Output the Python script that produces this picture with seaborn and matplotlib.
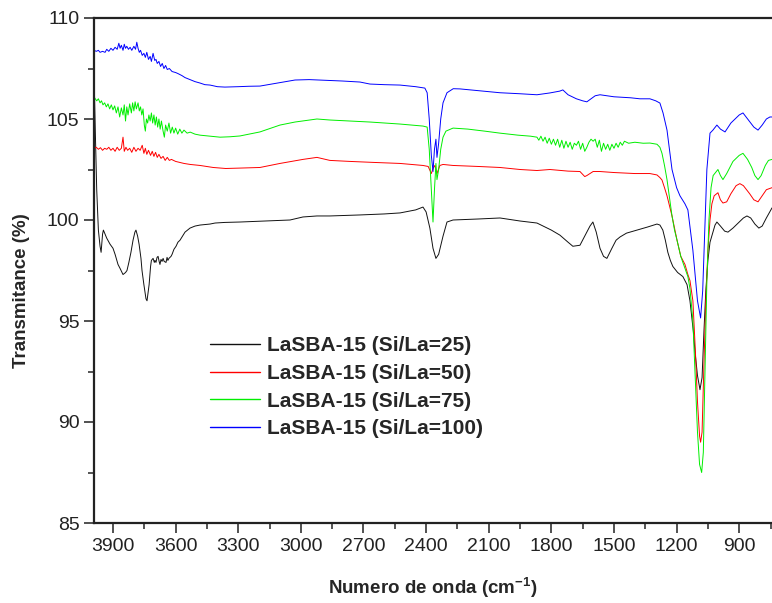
import numpy as np
import pandas as pd
import matplotlib
matplotlib.use("Agg")
import matplotlib.pyplot as plt
from matplotlib.ticker import MultipleLocator
import seaborn as sns

# ---------------- data ----------------
labels = ["LaSBA-15 (Si/La=25)", "LaSBA-15 (Si/La=50)",
          "LaSBA-15 (Si/La=75)", "LaSBA-15 (Si/La=100)"]
colors = ["#111111", "#ff0000", "#00ee00", "#0000ff"]

wn_25 = [3991, 3985, 3978, 3970, 3962, 3957, 3950, 3946, 3938, 3930, 3914, 3900, 3890, 3876,
         3866, 3852, 3840, 3833, 3824, 3814, 3804, 3795, 3790, 3782, 3775, 3766, 3761, 3752,
         3742, 3737, 3732, 3727, 3720, 3716, 3708, 3702, 3699, 3694, 3689, 3684, 3679, 3675,
         3670, 3665, 3660, 3655, 3646, 3641, 3637, 3632, 3622, 3617, 3608, 3598, 3589, 3579,
         3567, 3555, 3543, 3531, 3507, 3483, 3435, 3411, 3364, 3292, 3172, 3052, 2990, 2923,
         2861, 2717, 2600, 2525, 2450, 2415, 2400, 2382, 2367, 2353, 2340, 2319, 2300, 2271,
         2150, 2046, 1950, 1869, 1800, 1759, 1720, 1697, 1663, 1640, 1615, 1601, 1585, 1567,
         1550, 1534, 1510, 1490, 1471, 1440, 1390, 1340, 1294, 1280, 1266, 1254, 1242, 1230,
         1218, 1195, 1170, 1150, 1136, 1120, 1112, 1100, 1088, 1078, 1069, 1060, 1050, 1040,
         1026, 1016, 1007, 990, 970, 954, 930, 900, 880, 863, 845, 825, 806, 790, 770, 743]
t_25 = [107.3, 104.5, 101.5, 99.5, 98.7, 98.4, 99.3, 99.5, 99.3, 99.1, 98.8, 98.6, 98.3, 97.8,
        97.6, 97.3, 97.4, 97.5, 97.9, 98.4, 99.0, 99.4, 99.5, 99.2, 98.8, 98.1, 97.5, 96.8,
        96.1, 96.0, 96.4, 96.8, 97.7, 98.0, 98.1, 97.9, 98.0, 97.9, 98.15, 98.2, 97.95, 97.8,
        98.05, 97.95, 98.1, 97.95, 97.9, 98.15, 98.0, 98.1, 98.2, 98.3, 98.55, 98.7, 98.9, 99.0,
        99.2, 99.4, 99.5, 99.6, 99.7, 99.75, 99.8, 99.85, 99.88, 99.9, 99.95, 100.0, 100.15, 100.2,
        100.2, 100.25, 100.3, 100.35, 100.5, 100.64, 100.4, 99.6, 98.6, 98.1, 98.3, 99.2, 99.9, 100.0,
        100.05, 100.1, 99.95, 99.85, 99.5, 99.25, 98.9, 98.7, 98.75, 99.2, 99.7, 99.9, 99.4, 98.6,
        98.2, 98.1, 98.6, 99.0, 99.16, 99.35, 99.5, 99.65, 99.8, 99.75, 99.5, 99.0, 98.4, 98.0,
        97.7, 97.4, 97.2, 96.8, 96.0, 94.5, 93.5, 92.3, 91.6, 92.2, 94.5, 96.5, 98.0, 98.9,
        99.4, 99.75, 99.9, 99.7, 99.45, 99.4, 99.6, 99.9, 100.1, 100.2, 100.1, 99.8, 99.6, 99.7, 100.1, 100.6]

wn_50 = [3991, 3980, 3970, 3960, 3950, 3940, 3930, 3920, 3910, 3900, 3890, 3880, 3870, 3860,
         3852, 3846, 3838, 3830, 3820, 3810, 3800, 3790, 3780, 3770, 3760, 3752, 3745, 3738,
         3730, 3720, 3712, 3704, 3696, 3688, 3680, 3670, 3660, 3650, 3640, 3630, 3620, 3600,
         3580, 3560, 3530, 3483, 3420, 3360, 3292, 3196, 3100, 2990, 2923, 2861, 2765, 2650,
         2525, 2415, 2390, 2375, 2367, 2358, 2348, 2334, 2319, 2271, 2150, 2046, 1950, 1869,
         1807, 1720, 1663, 1640, 1630, 1600, 1567, 1500, 1400, 1328, 1294, 1280, 1270, 1258,
         1246, 1234, 1222, 1210, 1198, 1180, 1160, 1146, 1136, 1122, 1110, 1100, 1090, 1085,
         1078, 1070, 1060, 1050, 1040, 1031, 1020, 1002, 990, 978, 960, 940, 915, 897,
         880, 850, 830, 810, 790, 770, 743]
t_50 = [103.55, 103.6, 103.5, 103.58, 103.45, 103.55, 103.5, 103.6, 103.45, 103.55, 103.4, 103.6, 103.45, 103.55,
        104.1, 103.4, 103.6, 103.45, 103.55, 103.35, 103.6, 103.4, 103.55, 103.45, 103.7, 103.3, 103.55, 103.25,
        103.45, 103.2, 103.4, 103.15, 103.35, 103.1, 103.25, 103.05, 103.15, 102.95, 103.1, 102.95, 103.0, 102.9,
        102.85, 102.8, 102.75, 102.7, 102.6, 102.55, 102.57, 102.6, 102.8, 103.0, 103.1, 102.95, 102.9, 102.85,
        102.8, 102.7, 102.65, 102.3, 102.55, 102.7, 102.3, 102.7, 102.75, 102.7, 102.65, 102.6, 102.5, 102.45,
        102.5, 102.42, 102.4, 102.15, 102.2, 102.4, 102.4, 102.35, 102.3, 102.3, 102.23, 102.1, 101.98, 101.6,
        101.2, 100.7, 100.2, 99.6, 99.0, 98.2, 97.8, 97.3, 97.0, 96.0, 93.5, 91.0, 89.3, 89.0,
        89.5, 92.5, 96.0, 98.5, 100.0, 100.8, 101.2, 101.35, 101.0, 100.84, 100.9, 101.3, 101.7, 101.8,
        101.7, 101.3, 101.0, 100.9, 101.2, 101.5, 101.6]

wn_75 = [3991, 3985, 3978, 3970, 3962, 3955, 3948, 3940, 3932, 3924, 3916, 3908, 3900, 3892,
         3884, 3876, 3868, 3860, 3852, 3846, 3840, 3834, 3828, 3820, 3812, 3806, 3800, 3794,
         3788, 3780, 3774, 3768, 3762, 3756, 3750, 3745, 3740, 3734, 3728, 3722, 3716, 3710,
         3704, 3698, 3692, 3686, 3680, 3674, 3668, 3660, 3654, 3648, 3640, 3632, 3624, 3616,
         3608, 3600, 3590, 3580, 3570, 3560, 3545, 3530, 3507, 3483, 3435, 3387, 3340, 3292,
         3250, 3196, 3100, 3028, 2923, 2861, 2765, 2669, 2525, 2415, 2395, 2385, 2375, 2367,
         2360, 2353, 2348, 2340, 2330, 2319, 2305, 2271, 2200, 2120, 2046, 1960, 1900, 1869,
         1860, 1850, 1840, 1830, 1820, 1810, 1800, 1790, 1780, 1770, 1760, 1750, 1740, 1730,
         1720, 1710, 1700, 1690, 1680, 1670, 1660, 1650, 1640, 1630, 1620, 1610, 1600, 1590,
         1580, 1570, 1560, 1550, 1540, 1530, 1520, 1510, 1500, 1490, 1480, 1470, 1460, 1450,
         1430, 1400, 1360, 1328, 1294, 1280, 1270, 1258, 1246, 1234, 1222, 1210, 1198, 1180,
         1170, 1160, 1146, 1136, 1122, 1110, 1100, 1090, 1080, 1072, 1065, 1055, 1045, 1035,
         1025, 1002, 990, 978, 960, 930, 900, 882, 860, 840, 825, 810, 795, 775, 760, 743]
t_75 = [106.1, 106.0, 105.9, 106.0, 105.8, 105.9, 105.7, 105.8, 105.6, 105.75, 105.5, 105.7, 105.45, 105.65,
        105.3, 105.6, 105.1, 105.55, 105.2, 105.7, 104.9, 105.6, 105.2, 105.75, 105.3, 105.8, 105.4, 105.85,
        105.5, 105.8, 105.4, 105.6, 105.2, 105.5, 104.7, 104.4, 105.0, 104.8, 105.2, 104.9, 105.3, 104.8,
        105.2, 104.7, 105.1, 104.6, 105.0, 104.5, 104.9, 104.4, 104.1, 104.7, 104.4, 104.8, 104.3, 104.6,
        104.3, 104.55, 104.25, 104.5, 104.3, 104.45, 104.3, 104.35, 104.25, 104.2, 104.15, 104.1, 104.12, 104.16,
        104.25, 104.36, 104.7, 104.85, 105.0, 104.95, 104.9, 104.85, 104.75, 104.65, 104.6, 103.5, 101.5, 99.9,
        101.5, 102.8, 102.0, 102.5, 103.5, 104.1, 104.4, 104.55, 104.5, 104.4, 104.3, 104.2, 104.15, 104.1,
        103.95, 104.15, 103.9, 104.1, 103.8, 104.05, 103.75, 104.0, 103.7, 104.0, 103.6, 103.95, 103.55, 103.9,
        103.6, 103.85, 103.5, 103.8, 103.7, 103.9, 103.5, 103.8, 103.4, 103.6, 103.85, 104.0, 103.9, 104.0,
        103.6, 103.95, 103.4, 103.8, 103.5, 103.75, 103.45, 103.75, 103.55, 103.8, 103.6, 103.85, 103.7, 103.9,
        103.8, 103.85, 103.8, 103.81, 103.75, 103.6, 103.3, 102.7, 102.0, 101.1, 100.2, 99.5, 99.0, 98.2,
        97.9, 97.6, 97.2, 96.6, 95.0, 92.0, 89.5, 87.9, 87.5, 88.5, 92.0, 97.0, 100.0, 101.6,
        102.2, 102.5, 102.2, 102.0, 102.3, 102.9, 103.2, 103.3, 103.0, 102.6, 102.2, 102.0, 102.2, 102.7, 102.95, 103.0]

wn_100 = [3991, 3980, 3970, 3962, 3950, 3938, 3930, 3920, 3910, 3900, 3890, 3880, 3872, 3866,
          3860, 3852, 3846, 3840, 3834, 3826, 3818, 3810, 3800, 3792, 3786, 3780, 3774, 3768,
          3760, 3752, 3745, 3738, 3730, 3722, 3716, 3708, 3700, 3694, 3688, 3680, 3672, 3664,
          3656, 3648, 3640, 3630, 3617, 3600, 3589, 3570, 3555, 3531, 3507, 3483, 3460, 3435,
          3400, 3364, 3300, 3250, 3196, 3100, 3028, 2960, 2908, 2800, 2717, 2669, 2600, 2525,
          2450, 2406, 2395, 2385, 2375, 2367, 2360, 2353, 2348, 2340, 2330, 2319, 2300, 2270,
          2238, 2150, 2046, 1950, 1869, 1807, 1760, 1745, 1720, 1680, 1650, 1630, 1610, 1590,
          1567, 1500, 1420, 1376, 1328, 1300, 1280, 1265, 1246, 1222, 1200, 1184, 1160, 1146,
          1122, 1100, 1085, 1075, 1065, 1055, 1040, 1026, 1007, 990, 968, 940, 900, 882,
          860, 830, 810, 790, 770, 753, 743]
t_100 = [108.4, 108.35, 108.4, 108.3, 108.35, 108.3, 108.45, 108.35, 108.5, 108.4, 108.55, 108.45, 108.75, 108.5,
         108.65, 108.4, 108.7, 108.5, 108.6, 108.45, 108.55, 108.4, 108.6, 108.45, 108.8, 108.5, 108.3, 108.4,
         108.15, 108.25, 108.05, 108.3, 107.95, 108.1, 107.85, 108.25, 107.9, 107.95, 107.75, 107.85, 107.6, 107.75,
         107.5, 107.65, 107.45, 107.5, 107.35, 107.3, 107.25, 107.15, 107.05, 106.95, 106.85, 106.78, 106.7, 106.68,
         106.6, 106.58, 106.6, 106.62, 106.63, 106.8, 106.93, 106.95, 106.93, 106.88, 106.83, 106.73, 106.7, 106.68,
         106.6, 106.53, 106.3, 105.0, 103.2, 102.4, 103.5, 104.0, 103.1, 103.8, 105.0, 105.8, 106.3, 106.5,
         106.49, 106.4, 106.3, 106.25, 106.2, 106.29, 106.38, 106.44, 106.2, 106.0, 105.9, 105.85, 106.0, 106.15,
         106.2, 106.1, 106.05, 106.0, 106.0, 105.9, 105.79, 105.3, 104.45, 102.5, 101.6, 101.2, 100.8, 100.5,
         98.5, 96.0, 95.15, 96.5, 99.5, 102.5, 104.3, 104.45, 104.7, 104.5, 104.36, 104.8, 105.2, 105.3,
         105.0, 104.6, 104.45, 104.7, 105.0, 105.1, 105.1]

x_ticks = [3900, 3600, 3300, 3000, 2700, 2400, 2100, 1800, 1500, 1200, 900]
y_ticks = [85, 90, 95, 100, 105, 110]

# ---------------- figure ----------------
sns.set_style("ticks")
plt.rcParams["font.family"] = ["Liberation Sans", "DejaVu Sans"]
plt.rcParams["mathtext.fontset"] = "custom"
plt.rcParams["mathtext.rm"] = "Liberation Sans"
plt.rcParams["mathtext.bf"] = "Liberation Sans:bold"

fig = plt.figure(figsize=(7.72, 6.03), dpi=100)
ax = fig.add_axes([94 / 772, 80 / 603, 678 / 772, 505 / 603])

series = [(wn_25, t_25), (wn_50, t_50), (wn_75, t_75), (wn_100, t_100)]
for (wn, tr), lab, col in zip(series, labels, colors):
    df = pd.DataFrame({"wn": wn, "T": tr})
    sns.lineplot(data=df, x="wn", y="T", ax=ax, color=col, lw=0.7,
                 estimator=None, sort=True, label=lab)

ax.set_xlim(3991, 743)
ax.set_ylim(85, 110)
ax.set_xticks(x_ticks)
ax.set_yticks(y_ticks)
ax.xaxis.set_minor_locator(MultipleLocator(150))
ax.yaxis.set_minor_locator(MultipleLocator(2.5))
ax.tick_params(axis="both", which="major", direction="out", length=7, width=1.1,
               labelsize=14, colors="#222222", labelcolor="#222222")
ax.tick_params(axis="both", which="minor", direction="out", length=4, width=1.1)
ax.tick_params(top=False, right=False)
ax.spines["right"].set_visible(False)
for s in ["left", "bottom", "top"]:
    ax.spines[s].set_linewidth(1.6)
    ax.spines[s].set_color("#222222")

ax.set_xlabel(r"Numero de onda (cm$^{\mathbf{-1}}$)", fontsize=13.5, fontweight="bold")
ax.set_ylabel("Transmitance (%)", fontsize=13.5, fontweight="bold")
ax.xaxis.set_label_coords(0.5, -0.104)
ax.yaxis.set_label_coords(-0.094, 0.46)

leg = ax.legend(loc="upper left", bbox_to_anchor=(0.171, 0.370), frameon=False,
                prop={"weight": "bold", "size": 15}, handlelength=2.4,
                handletextpad=0.35, labelspacing=0.42, borderpad=0, borderaxespad=0)
for line in leg.get_lines():
    line.set_linewidth(1.0)

fig.savefig("out.png", dpi=100)
